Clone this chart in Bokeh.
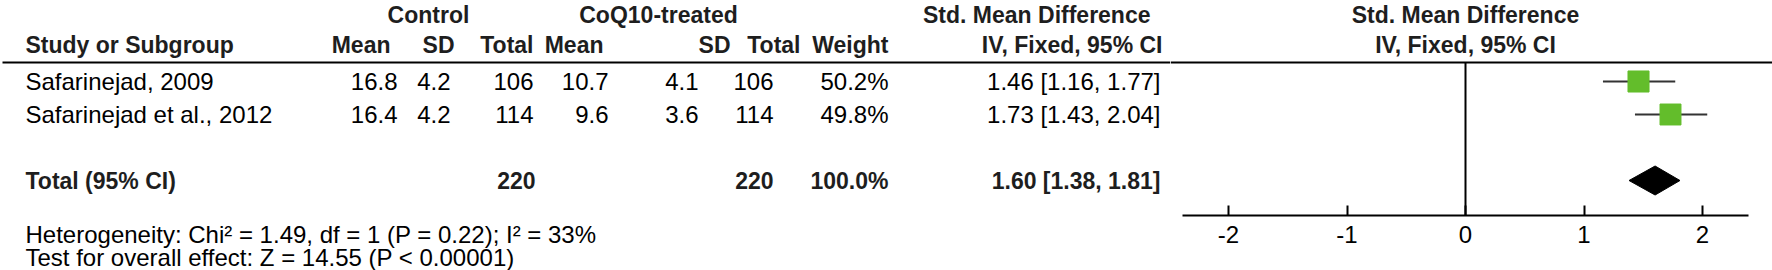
from math import sqrt
from bokeh.plotting import figure
from bokeh.models import ColumnDataSource, Range1d, LinearAxis, FixedTicker
from bokeh.layouts import row
from bokeh.core.properties import value
from bokeh.embed import file_html
from bokeh.resources import INLINE

# ---------------- data ----------------
studies = ["Safarinejad, 2009", "Safarinejad et al., 2012"]
ctrl_mean = [16.8, 16.4]
ctrl_sd = [4.2, 4.2]
ctrl_n = [106, 114]
trt_mean = [10.7, 9.6]
trt_sd = [4.1, 3.6]
trt_n = [106, 114]
weight = [50.2, 49.8]
smd = [1.46, 1.73]
smd_lo = [1.16, 1.43]
smd_hi = [1.77, 2.04]

total_label = "Total (95% CI)"
total_ctrl_n = 220
total_trt_n = 220
total_weight = 100.0
total_smd = 1.60
total_lo = 1.38
total_hi = 1.81

heterogeneity = "Heterogeneity: Chi\u00b2 = 1.49, df = 1 (P = 0.22); I\u00b2 = 33%"
overall = "Test for overall effect: Z = 14.55 (P < 0.00001)"
axis_ticks = [-2, -1, 0, 1, 2]

group_headers = ["Control", "CoQ10-treated"]
effect_header = ["Std. Mean Difference", "IV, Fixed, 95% CI"]

# ---------------- layout / style ----------------
FONT = "Liberation Sans"
BODY = "24px"
HEAD = "23px"
HEAD_COLOR = "#1e1e1e"
GREEN = "#63bd2b"
W1, W2, H = 1170, 602, 270
HDR1_Y, HDR2_Y, RULE_Y = 14, 44, 62
ROW0_Y, ROW_GAP = 81, 33
TOTAL_Y, HET_Y, TEST_Y = 180, 234, 257
AXIS_Y = 215
ZERO_PX, PPU = 1465, 118.5

rows = [ROW0_Y + i * ROW_GAP for i in range(len(studies))]


def txt(p, xs, ys, texts, align, bold=False, size=BODY, color="#000000"):
    src = ColumnDataSource(dict(x=xs, y=ys, t=texts))
    p.text(x="x", y="y", text="t", source=src,
           text_font=value(FONT), text_font_size=size,
           text_font_style="bold" if bold else "normal",
           text_align=align, text_baseline="middle", text_color=color)


def bare(p):
    p.grid.visible = False
    p.outline_line_color = None
    p.background_fill_color = "white"
    p.border_fill_color = "white"
    p.frame_align = False


# ---------------- table figure ----------------
L = figure(width=W1, height=H, x_range=Range1d(0, W1),
           y_range=Range1d(H, 0), output_backend="svg",
           toolbar_location=None, min_border=0,
           x_axis_location=None, y_axis_location=None)
bare(L)

# header row 1
txt(L, [428, 658], [HDR1_Y, HDR1_Y], group_headers, "center", True, HEAD, HEAD_COLOR)
txt(L, [1150], [HDR1_Y], [effect_header[0]], "right", True, HEAD, HEAD_COLOR)
# header row 2
txt(L, [25], [HDR2_Y], ["Study or Subgroup"], "left", True, HEAD, HEAD_COLOR)
hdr2_x = [390, 454, 533, 603, 730, 800, 888, 1162]
hdr2_t = ["Mean", "SD", "Total", "Mean", "SD", "Total", "Weight", effect_header[1]]
txt(L, hdr2_x, [HDR2_Y] * len(hdr2_x), hdr2_t, "right", True, HEAD, HEAD_COLOR)

L.segment(x0=[2], y0=[RULE_Y], x1=[W1], y1=[RULE_Y],
          line_color="black", line_width=2)

# study rows
txt(L, [25] * len(studies), rows, studies, "left")
cols = [
    (397, [f"{v:.1f}" for v in ctrl_mean]),
    (450, [f"{v:.1f}" for v in ctrl_sd]),
    (533, [f"{v}" for v in ctrl_n]),
    (608, [f"{v:.1f}" for v in trt_mean]),
    (698, [f"{v:.1f}" for v in trt_sd]),
    (773, [f"{v}" for v in trt_n]),
    (888, [f"{v:.1f}%" for v in weight]),
    (1160, [f"{e:.2f} [{lo:.2f}, {hi:.2f}]" for e, lo, hi in zip(smd, smd_lo, smd_hi)]),
]
for cx, texts in cols:
    txt(L, [cx] * len(texts), rows, texts, "right")

# total row
txt(L, [25], [TOTAL_Y], [total_label], "left", True, HEAD, HEAD_COLOR)
txt(L, [535, 773, 888, 1160], [TOTAL_Y] * 4,
    [f"{total_ctrl_n}", f"{total_trt_n}", f"{total_weight:.1f}%",
     f"{total_smd:.2f} [{total_lo:.2f}, {total_hi:.2f}]"],
    "right", True, HEAD, HEAD_COLOR)

# footnotes
txt(L, [25, 25], [HET_Y, TEST_Y], [heterogeneity, overall], "left")

# ---------------- forest figure ----------------
xs = -(ZERO_PX - W1) / PPU
xe = xs + W2 / PPU
R = figure(width=W2, height=H, x_range=Range1d(xs, xe),
           y_range=Range1d(AXIS_Y, 0), output_backend="svg",
           toolbar_location=None, min_border_left=0, min_border_right=0,
           min_border_top=0, min_border_bottom=H - AXIS_Y,
           x_axis_location=None, y_axis_location=None)
bare(R)

ax = LinearAxis(ticker=FixedTicker(ticks=axis_ticks), bounds=(-2.39, 2.39),
                major_label_overrides={t: str(t) for t in axis_ticks})
ax.axis_line_width = 2
ax.axis_line_color = "black"
ax.major_tick_line_width = 2
ax.major_tick_line_color = "black"
ax.major_tick_in = 10
ax.major_tick_out = 0
ax.minor_tick_line_color = None
ax.major_label_standoff = 10
ax.major_label_text_font = FONT
ax.major_label_text_font_size = BODY
ax.major_label_text_color = "black"
R.add_layout(ax, "below")

txt(R, [0, 0], [HDR1_Y, HDR2_Y], effect_header, "center", True, HEAD, HEAD_COLOR)
R.segment(x0=[xs], y0=[RULE_Y], x1=[xe], y1=[RULE_Y], line_color="black", line_width=2)
R.segment(x0=[0], y0=[RULE_Y], x1=[0], y1=[AXIS_Y], line_color="black", line_width=2)

R.segment(x0=smd_lo, y0=rows, x1=smd_hi, y1=rows, line_color="#333333", line_width=2)
sizes = [21 * sqrt(w / 50.0) for w in weight]
R.scatter(x=smd, y=rows, size=sizes, marker="square",
          fill_color=GREEN, line_color=GREEN)

R.patch(x=[total_lo, total_smd, total_hi, total_smd],
        y=[TOTAL_Y, TOTAL_Y - 14.5, TOTAL_Y, TOTAL_Y + 14.5],
        fill_color="black", line_color="black")

layout = row(L, R)
open("out.html", "w").write(file_html(layout, INLINE))
